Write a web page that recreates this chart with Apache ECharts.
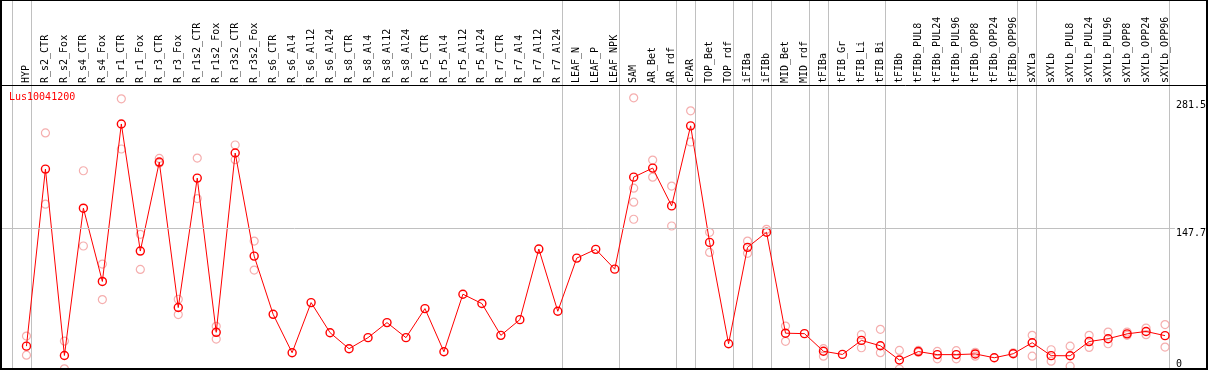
<!DOCTYPE html>
<html>
<head>
<meta charset="utf-8">
<script src="https://cdn.jsdelivr.net/npm/echarts@6/dist/echarts.min.js"></script>
<style>html,body{margin:0;padding:0;background:#fff}#c{width:1209px;height:370px}</style>
</head>
<body>
<div id="c"></div>
<script>
const seriesName = 'Lus10041200';
const categories = ['HYP','R_s2_CTR','R_s2_Fox','R_s4_CTR','R_s4_Fox','R_r1_CTR','R_r1_Fox','R_r3_CTR','R_r3_Fox','R_r1s2_CTR','R_r1s2_Fox','R_r3s2_CTR','R_r3s2_Fox','R_s6_CTR','R_s6_Al4','R_s6_Al12','R_s6_Al24','R_s8_CTR','R_s8_Al4','R_s8_Al12','R_s8_Al24','R_r5_CTR','R_r5_Al4','R_r5_Al12','R_r5_Al24','R_r7_CTR','R_r7_Al4','R_r7_Al12','R_r7_Al24','LEAF_N','LEAF_P','LEAF_NPK','SAM','AR_Bet','AR_rdf','cPAR','TOP_Bet','TOP_rdf','iFIBa','iFIBb','MID_Bet','MID_rdf','tFIBa','tFIB_Gr','tFIB_Li','tFIB_Bi','tFIBb','tFIBb_PUL8','tFIBb_PUL24','tFIBb_PUL96','tFIBb_OPP8','tFIBb_OPP24','tFIBb_OPP96','sXYLa','sXYLb','sXYLb_PUL8','sXYLb_PUL24','sXYLb_PUL96','sXYLb_OPP8','sXYLb_OPP24','sXYLb_OPP96'];
const meanValues = [24.0,209.8,14.2,168.8,91.9,257.2,123.8,217.2,64.5,200.4,38.5,226.7,118.5,57.4,17.1,69.7,38.1,21.3,32.9,48.7,32.9,63.4,18.1,78.5,68.7,35.3,51.8,125.9,60.6,116.4,125.6,104.8,201.4,210.9,171.2,255.2,132.9,26.5,127.7,143.5,37.6,37.1,18.6,15.3,30.0,24.4,9.4,18.3,15.1,15.1,15.8,11.8,16.0,27.6,14.0,13.9,28.8,31.8,36.9,39.4,35.0];
const replicateValues = [
  [34.6,14.5],[247.8,173.0],[29.3,0.2],[208.1,129.1],[110.1,72.9],[283.6,230.9],[141.4,104.5],[221.0,216.2],[73.2,57.1],[221.4,178.9],[44.8,31.4],[235.1,219.7],[134.3,103.8],
  [],[],[],[],[],[],[],[],[],[],[],[],[],[],[],[],[],[],[],
  [284.6,189.8,175.1,157.2],[219.3,201.4],[192.0,150.1],[271.0,238.3],[143.5,122.4],[],[134.3,121.4],[146.6],[45.1,29.0],[],
  [21.3,13.5],[],[36.0,22.3],[41.6,17.1],
  [19.5,0],[19.5,17.5],[18.4,10.7],[19.2,10.7],[17.5,13.5],[],[17.0],
  [35.3,13.5],
  [20.2,8.2],[24.0,3.0],[35.3,22.7],[38.8,26.5],[38.8,35.3],[43.0,36.0],[46.6,23.0]
];
const yTicks = [0, 147.7, 281.5];
const gridLineValues = [147.7];
const groupStarts = ['HYP','R_s2_CTR','LEAF_N','SAM','cPAR','TOP_Bet','iFIBa','iFIBb','MID_Bet','tFIBa','tFIB_Gr','tFIBb','sXYLa','sXYLb'];

const FONT = 'DejaVu Sans Mono';
const chart = echarts.init(document.getElementById('c'), null, {renderer: 'canvas'});

const lineData = meanValues.map((v, i) => [i, v]);
const repData = [];
replicateValues.forEach((arr, i) => arr.forEach(v => repData.push([i, v])));
const sepData = groupStarts.map(n => [categories.indexOf(n) - 0.78, 0]);
sepData.push([categories.length - 0.78, 0]);

chart.setOption({
  animation: false,
  backgroundColor: '#fff',
  title: {text: seriesName, left: 9, top: 92, padding: 0,
    textStyle: {color: '#ff0000', fontSize: 10, fontFamily: FONT, fontWeight: 'normal'}},
  grid: {left: 1, right: 32, top: 85, bottom: 1, containLabel: false},
  xAxis: {
    type: 'value', position: 'top', min: -1.3414, max: 60.52,
    axisLine: {show: false}, axisTick: {show: false}, splitLine: {show: false},
    axisLabel: {
      customValues: categories.map((_, i) => i),
      rotate: 90, margin: 2, fontSize: 10, fontFamily: FONT, color: '#000',
      formatter: v => categories[Math.round(v)] || ''
    }
  },
  yAxis: {
    type: 'value', position: 'right', min: 0, max: 298.1,
    axisLine: {show: false}, axisTick: {show: false}, splitLine: {show: false},
    axisLabel: {
      customValues: yTicks, margin: 1, align: 'left', verticalAlign: 'top',
      verticalAlignMinLabel: 'bottom',
      fontSize: 10, fontFamily: FONT, color: '#000',
      formatter: v => String(v)
    }
  },
  graphic: [
    {type: 'rect', z: 100, silent: true, shape: {x: 1, y: 0, width: 1206, height: 369},
      style: {fill: null, stroke: '#000', lineWidth: 2}},
    {type: 'line', z: 100, silent: true, shape: {x1: 1, y1: 85.5, x2: 1207, y2: 85.5},
      style: {stroke: '#000', lineWidth: 1}}
  ],
  series: [
    {
      type: 'custom', silent: true, z: 1, clip: false,
      data: sepData,
      renderItem: (params, api) => {
        const p = api.coord([api.value(0), 0]);
        const x = Math.round(p[0]) + 0.5;
        return {type: 'line', shape: {x1: x, y1: 0, x2: x, y2: p[1]},
          style: {stroke: '#c0c0c0', lineWidth: 1}};
      }
    },
    {
      type: 'scatter', z: 2, silent: true,
      data: repData,
      symbol: 'circle', symbolSize: 8,
      itemStyle: {color: 'rgba(0,0,0,0)', borderColor: '#f29a9a', borderWidth: 1.2}
    },
    {
      type: 'line', z: 3, silent: true,
      data: lineData,
      symbol: 'circle', symbolSize: 8,
      lineStyle: {color: '#ff0000', width: 1},
      itemStyle: {color: 'rgba(0,0,0,0)', borderColor: '#ff0000', borderWidth: 1.4},
      markLine: {
        silent: true, symbol: 'none', label: {show: false},
        lineStyle: {color: '#c0c0c0', width: 1, type: 'solid'},
        data: gridLineValues.map(v => ({yAxis: v}))
      }
    }
  ]
});
</script>
</body>
</html>
